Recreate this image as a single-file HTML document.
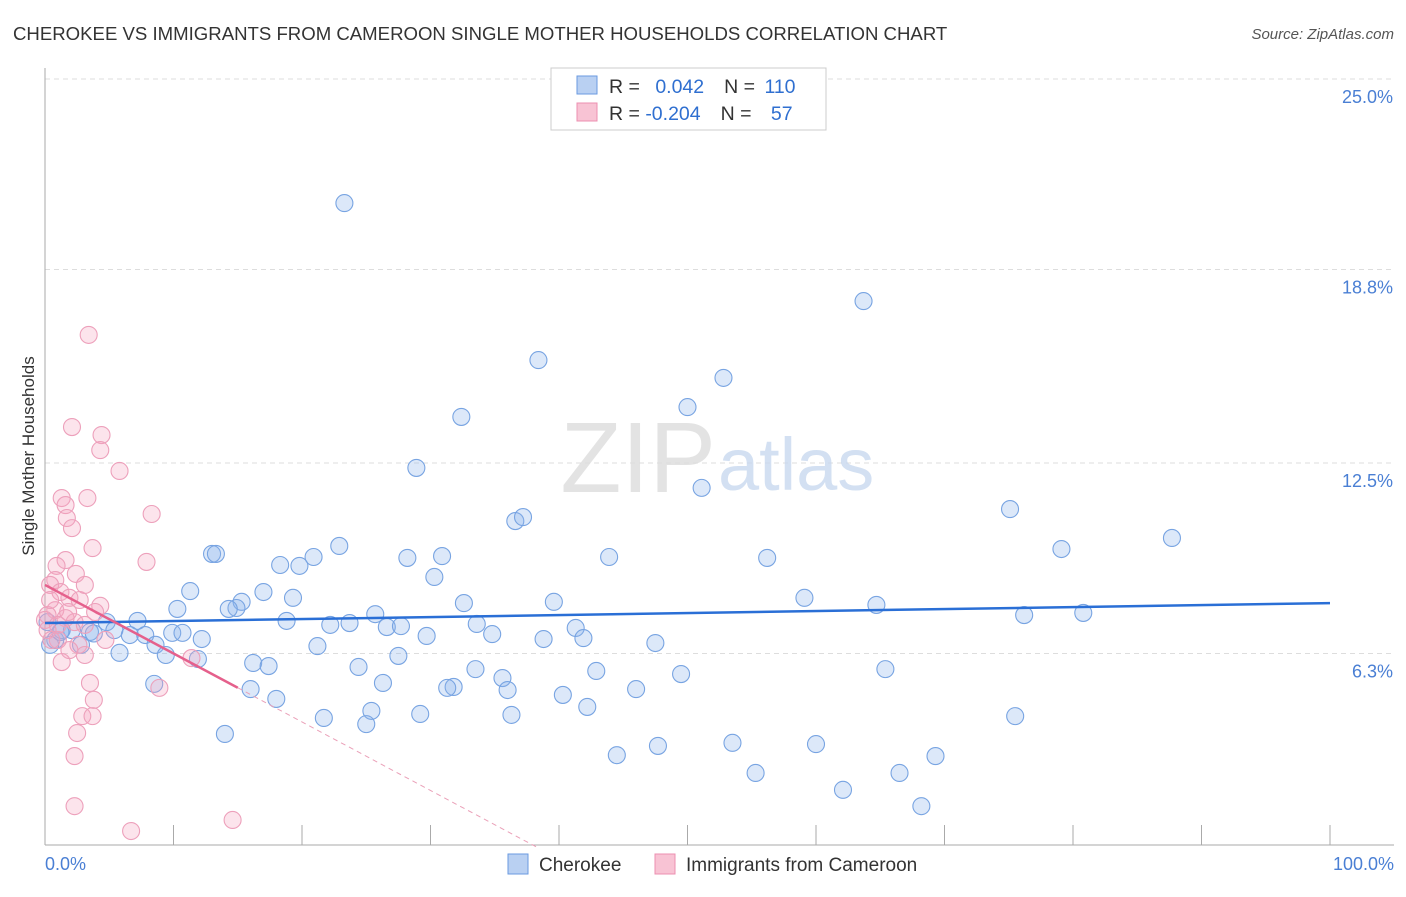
<!DOCTYPE html>
<html><head><meta charset="utf-8"><style>
body{margin:0;background:#fff;font-family:"Liberation Sans",sans-serif}
svg text{font-family:"Liberation Sans",sans-serif}
</style></head><body>
<svg id="chart" width="1406" height="892" viewBox="0 0 1406 892" xmlns="http://www.w3.org/2000/svg">
<text x="13" y="40" font-size="18.6" fill="#333">CHEROKEE VS IMMIGRANTS FROM CAMEROON SINGLE MOTHER HOUSEHOLDS CORRELATION CHART</text>
<text x="1394" y="39" font-size="15" fill="#555" text-anchor="end" font-style="italic">Source: ZipAtlas.com</text>
<g id="grid"></g>
<text x="716" y="492" font-size="100" text-anchor="end" fill="#ddd" font-family="Liberation Serif" opacity="0.8">ZIP</text>
<text x="718" y="490" font-size="74" fill="#c9d9ef" opacity="0.8">atlas</text>
<line x1="45" y1="68" x2="45" y2="845" stroke="#aaa" stroke-width="1"/>
<line x1="45" y1="845" x2="1394" y2="845" stroke="#aaa" stroke-width="1"/>
<g id="ticks"></g>
<text transform="translate(34,456) rotate(-90)" font-size="17" fill="#333" text-anchor="middle">Single Mother Households</text>
<text x="45" y="870" font-size="18" fill="#4a7fd4">0.0%</text>
<text x="1394" y="870" font-size="18" fill="#4a7fd4" text-anchor="end">100.0%</text>
<g id="points"></g>
<g id="trends"></g>
<g>
<rect x="551" y="68" width="275" height="62" fill="#fff" stroke="#ccc"/>
<rect x="577" y="76" width="20" height="18" fill="#b9d0f2" stroke="#6a9ae0"/>
<rect x="577" y="103" width="20" height="18" fill="#f8c3d4" stroke="#ec8fb0"/>
<text x="609" y="93" font-size="19.5" fill="#333">R = <tspan fill="#2f6fd0" dx="10">0.042</tspan><tspan dx="20">N = </tspan><tspan fill="#2f6fd0" dx="4">110</tspan></text>
<text x="609" y="120" font-size="19.5" fill="#333">R = <tspan fill="#2f6fd0">-0.204</tspan><tspan dx="20">N = </tspan><tspan fill="#2f6fd0" dx="14">57</tspan></text>
</g>
<g>
<rect x="508" y="854" width="20" height="20" fill="#b9d0f2" stroke="#6a9ae0"/>
<text x="539" y="871" font-size="19" fill="#333">Cherokee</text>
<rect x="655" y="854" width="20" height="20" fill="#f8c3d4" stroke="#ec8fb0"/>
<text x="686" y="871" font-size="19" fill="#333">Immigrants from Cameroon</text>
</g>
</svg>
<script>
const yTicks=[6.3,12.5,18.8,25.0];
const yTickLabels=["6.3%","12.5%","18.8%","25.0%"];
const xTicks=[0,10,20,30,40,50,60,70,80,90,100];
const blueX=[23.3,63.7,38.4,52.8,50.0,32.4,28.9,51.1,36.6,37.2,75.1,87.7,79.1,13.0,13.3,22.9,28.2,30.9,43.9,56.2,18.3,19.8,20.9,30.3,11.3,17.0,19.3,15.3,14.9,14.3,10.3,32.6,39.6,59.1,64.7,76.2,80.8,25.7,18.8,22.2,23.7,26.6,27.7,33.6,41.3,7.2,4.8,2.1,3.5,5.4,6.6,7.8,9.9,10.7,12.2,8.6,9.4,5.8,2.8,0.8,1.3,21.2,29.7,34.8,38.8,41.9,47.5,11.9,16.2,17.4,24.4,27.5,33.5,35.6,36.0,42.9,49.5,65.4,26.3,31.8,31.3,8.5,16.0,18.0,40.3,46.0,42.2,25.4,29.2,36.3,21.7,25.0,14.0,75.5,53.5,60.0,47.7,44.5,69.3,55.3,66.5,62.1,68.2,0.4,1.2,0.2,3.8];
const blueY=[20.96,17.77,15.85,15.27,14.32,14.00,12.34,11.69,10.61,10.74,11.00,10.06,9.70,9.54,9.54,9.80,9.41,9.47,9.44,9.41,9.18,9.15,9.44,8.79,8.33,8.30,8.11,7.98,7.78,7.75,7.75,7.94,7.98,8.11,7.88,7.55,7.62,7.58,7.36,7.23,7.29,7.16,7.19,7.26,7.13,7.36,7.32,7.06,7.00,7.06,6.90,6.90,6.97,6.97,6.77,6.58,6.25,6.32,6.58,6.74,7.06,6.54,6.87,6.93,6.77,6.80,6.64,6.12,5.99,5.89,5.86,6.22,5.79,5.50,5.11,5.73,5.63,5.79,5.34,5.21,5.18,5.31,5.14,4.82,4.95,5.14,4.56,4.43,4.33,4.30,4.20,4.00,3.68,4.26,3.39,3.35,3.29,2.99,2.96,2.41,2.41,1.86,1.33,6.58,7.00,7.32,6.95];
const pinkX=[3.4,2.1,4.4,4.3,5.8,8.3,1.3,3.3,1.6,1.7,2.1,3.7,1.6,7.9,0.9,2.4,0.8,0.4,1.2,1.9,2.7,4.3,3.9,0.8,0.2,1.6,2.3,3.1,1.0,2.6,4.7,3.1,1.3,11.4,8.9,3.5,3.8,2.9,3.7,2.5,2.3,2.3,6.7,14.6,0.4,0.0,1.0,1.8,0.2,0.5,1.9,3.1];
const pinkY=[16.67,13.67,13.41,12.92,12.24,10.84,11.36,11.36,11.13,10.71,10.38,9.73,9.34,9.28,9.15,8.89,8.69,8.53,8.30,8.11,8.04,7.85,7.65,7.71,7.55,7.45,7.32,7.23,6.74,6.58,6.74,6.25,6.02,6.15,5.18,5.34,4.79,4.26,4.26,3.71,2.96,1.33,0.52,0.88,8.04,7.39,7.23,7.65,7.06,6.74,6.41,8.53];
const blueTrend=[7.29,7.94];
const pinkTrend=[8.53,-0.223];
const X0=45,X1=1330,Y0=847,PPY=30.72;
const sx=v=>X0+(X1-X0)*v/100, sy=v=>Y0-v*PPY;
const NS="http://www.w3.org/2000/svg";
function mk(t,a,p){const e=document.createElementNS(NS,t);for(const k in a)e.setAttribute(k,a[k]);p.appendChild(e);return e;}
const grid=document.getElementById('grid');
yTicks.forEach((v,i)=>{
 const l=mk('line',{x1:45,x2:1394,y1:sy(v),y2:sy(v),stroke:'#ddd','stroke-dasharray':'5,4'},grid);
 
 
 const t=mk('text',{x:1393,y:sy(v)+24,'font-size':18,fill:'#4a7fd4','text-anchor':'end'},grid);
 t.textContent=yTickLabels[i];
 
 
});
const ticks=document.getElementById('ticks');
xTicks.forEach(v=>{
 const l=mk('line',{x1:sx(v),x2:sx(v),y1:825,y2:845,stroke:'#aaa'},ticks);
 
 
});
const pts=document.getElementById('points');
blueX.forEach((x,i)=>{
 const c=mk('circle',{cx:sx(x),cy:sy(blueY[i]),r:8.5,fill:'rgba(140,180,236,0.3)',stroke:'#78a4e2','stroke-width':1.1},pts);
 
 
});
pinkX.forEach((x,i)=>{
 const c=mk('circle',{cx:sx(x),cy:sy(pinkY[i]),r:8.5,fill:'rgba(246,165,192,0.3)',stroke:'#eda0bb','stroke-width':1.1},pts);
 
 
});
const tr=document.getElementById('trends');
const bl=mk('line',{x1:sx(0),y1:sy(blueTrend[0]),x2:sx(100),y2:sy(blueTrend[1]),stroke:'#2a6fd6','stroke-width':2.5},tr);


const pf=x=>pinkTrend[0]+pinkTrend[1]*x;
const xEnd=-pinkTrend[0]/pinkTrend[1];
const pd=mk('line',{x1:sx(15),y1:sy(pf(15)),x2:sx(xEnd),y2:sy(0),stroke:'#eaa0b8','stroke-width':1,'stroke-dasharray':'5,4'},tr);


const ps=mk('line',{x1:sx(0),y1:sy(pf(0)),x2:sx(15),y2:sy(pf(15)),stroke:'#e5608c','stroke-width':2.5},tr);


</script>
</body></html>
